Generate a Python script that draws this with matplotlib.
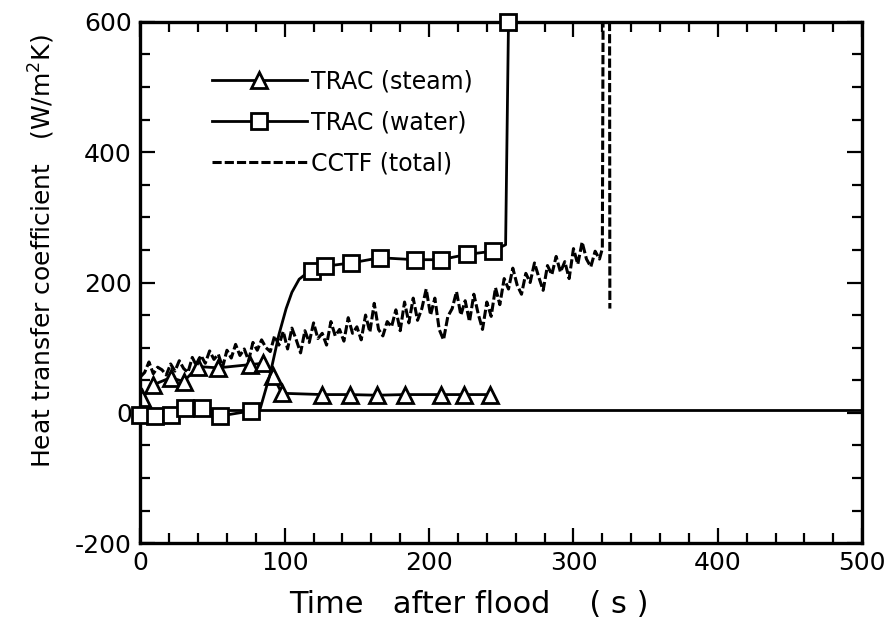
import matplotlib
matplotlib.use('Agg')
import matplotlib.pyplot as plt
from matplotlib.ticker import MultipleLocator

plt.rcParams['font.family'] = ['DejaVu Sans']
plt.rcParams['axes.unicode_minus'] = False

# TRAC steam (triangles)
steam_t = [1, 9, 21, 30, 40, 54, 76, 85, 92, 98, 126, 145, 164, 183, 208, 224, 242]
steam_h = [22, 43, 54, 48, 71, 69, 74, 76, 56, 30, 28, 28, 27, 28, 28, 28, 28]

# TRAC water (squares)
water_t = [0, 10, 21, 31, 43, 55, 77, 83, 90, 96, 101, 105, 110, 114, 119, 128,
           146, 166, 190, 208, 226, 244, 253, 255]
water_h = [-3, -5, -3, 8, 8, -5, 3, 6, 60, 120, 160, 185, 205, 212, 217, 225,
           230, 238, 235, 235, 243, 248, 258, 600]
water_marks = [0, 1, 2, 3, 4, 5, 6, 14, 15, 16, 17, 18, 19, 20, 21, 23]

# CCTF total (measured, noisy)
cctf_t = [0, 3, 6, 9, 12, 15, 18, 21, 24, 27, 30, 33, 36, 39, 42, 45, 48, 51, 54, 57,
          60, 63, 66, 69, 72, 75, 78, 81, 84, 87, 90, 93, 96, 99, 102, 105, 108, 111,
          114, 117, 120, 123, 126, 129, 132, 135, 138, 141, 144, 147, 150, 153, 156,
          159, 162, 165, 168, 171, 174, 177, 180, 183, 186, 189, 192, 195, 198, 201,
          204, 207, 210, 213, 216, 219, 222, 225, 228, 231, 234, 237, 240, 243, 246,
          249, 252, 255, 258, 261, 264, 267, 270, 273, 276, 279, 282, 285, 288, 291,
          294, 297, 300, 303, 306, 309, 312, 315, 318, 320, 320.5, 325, 325.2]
cctf_h = [55, 62, 78, 60, 70, 66, 58, 75, 64, 80, 68, 62, 85, 72, 88, 76, 95, 82, 90, 70,
          96, 84, 105, 88, 98, 80, 108, 96, 112, 100, 94, 118, 104, 125, 98, 130, 112, 92,
          126, 108, 138, 114, 122, 104, 140, 118, 128, 110, 146, 122, 132, 112, 150,
          124, 168, 128, 118, 140, 132, 158, 126, 170, 138, 176, 142, 160, 190, 150,
          176, 128, 112, 148, 160, 186, 150, 172, 140, 182, 152, 128, 170, 148, 192,
          166, 206, 190, 222, 196, 182, 214, 200, 230, 208, 188, 226, 212, 240, 216,
          232, 206, 252, 228, 262, 236, 224, 248, 236, 252, 600, 600, 160]

fig = plt.figure(figsize=(8.88, 6.25), dpi=100)
ax = fig.add_axes([0.158, 0.131, 0.813, 0.834])

ax.axhline(5, color='black', lw=2)
ax.plot(steam_t, steam_h, color='black', lw=2, marker='^', ms=12,
        mfc='white', mec='black', mew=2, label='TRAC (steam)')
ax.plot(water_t, water_h, color='black', lw=2, marker='s', ms=11,
        mfc='white', mec='black', mew=2, markevery=water_marks,
        clip_on=False, zorder=4, label='TRAC (water)')
ax.plot(cctf_t, cctf_h, color='black', lw=2.2, linestyle=(0, (3, 1)),
        label='CCTF (total)')

ax.set_xlim(0, 500)
ax.set_ylim(-200, 600)
ax.xaxis.set_major_locator(MultipleLocator(100))
ax.xaxis.set_minor_locator(MultipleLocator(20))
ax.yaxis.set_major_locator(MultipleLocator(200))
ax.yaxis.set_minor_locator(MultipleLocator(50))
ax.tick_params(which='both', direction='in', top=True, right=True,
               labelsize=18, width=1.6, pad=6)
ax.tick_params(which='major', length=11)
ax.tick_params(which='minor', length=7)
for sp in ax.spines.values():
    sp.set_linewidth(2.4)

ax.set_xlabel('Time   after flood    ( s )', fontsize=22)
ax.xaxis.set_label_coords(0.455, -0.09)
ax.set_ylabel('Heat transfer coefficient   (W/m$^2$K)', fontsize=18)
ax.yaxis.set_label_coords(-0.115, 0.56)

ax.legend(loc='upper left', bbox_to_anchor=(0.07, 0.95), frameon=False,
          fontsize=17, handlelength=4.0, handletextpad=0.2, labelspacing=0.72)

fig.savefig('out.png', dpi=100)
